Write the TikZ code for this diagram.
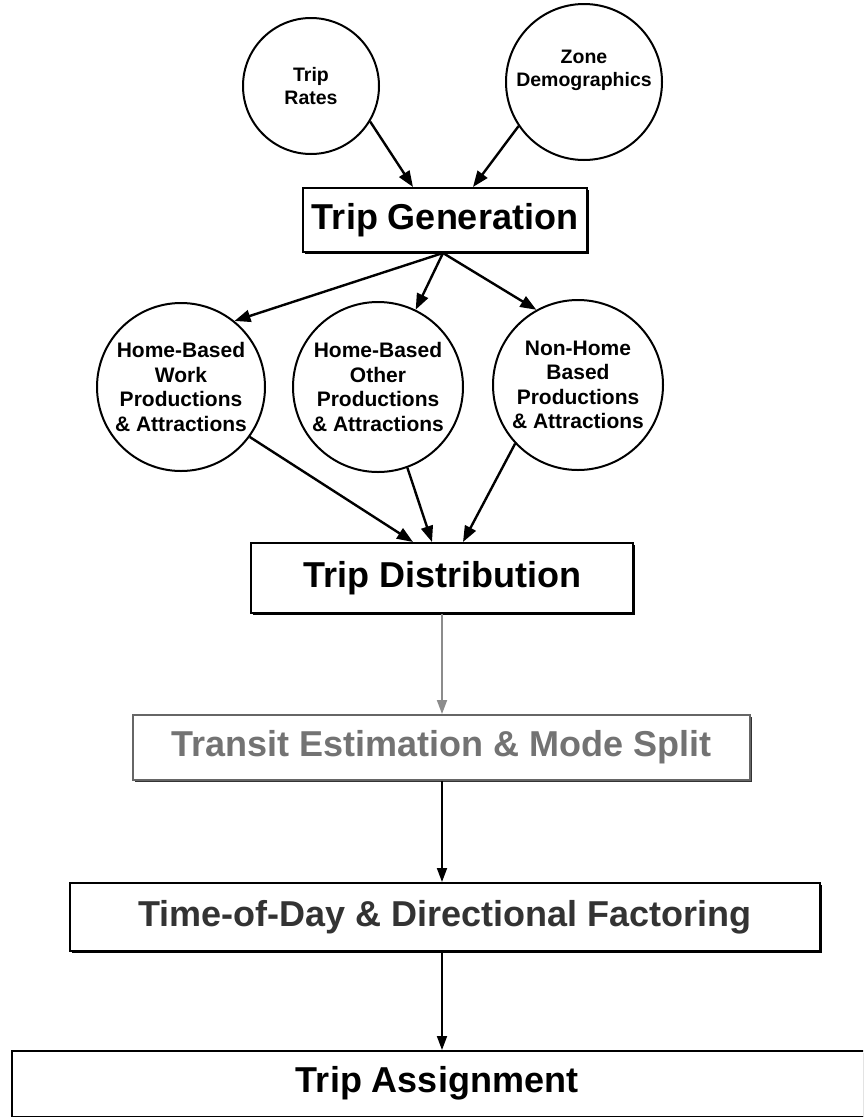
\documentclass[tikz,border=0pt]{standalone}
\usepackage{fontspec}
\setmainfont{Liberation Sans}
\usetikzlibrary{arrows.meta,calc,shadows}
\begin{document}
\begin{tikzpicture}[x=1pt,y=-1pt,
  circ/.style={draw, circle, line width=2pt, inner sep=0pt, align=center, font=\fontsize{21}{24.5}\selectfont\bfseries},
  smallcirc/.style={draw, circle, line width=2pt, inner sep=0pt, align=center, font=\fontsize{19.5}{23}\selectfont\bfseries},
  stepbox/.style={draw, fill=white, rectangle, line width=2pt, inner sep=0pt, font=\fontsize{36}{40}\selectfont\bfseries,
    drop shadow={shadow xshift=1.8pt, shadow yshift=-1.8pt, fill=black, opacity=1}},
  arr/.style={line width=2.4pt, -{Triangle[length=16pt,width=12pt]}},
  varr/.style={line width=1.8pt, -{Triangle[length=14pt,width=10pt]}}]
\useasboundingbox (0,0) rectangle (863,1117);
\clip (0,0) rectangle (863,1117);
\fill[white] (0,0) rectangle (863,1117);

\node[smallcirc, minimum size=136pt] (rates) at (311,86) {Trip\\Rates};
\node[smallcirc, minimum size=156pt] (zone) at (584,82) {};
\node[font=\fontsize{19.5}{23}\selectfont\bfseries, align=center] (zonetext) at (584,70) {Zone\\Demographics};

\node[stepbox, minimum width=284pt, minimum height=64pt] (gen) at (445,220) {Trip Generation};

\node[circ, minimum size=168pt] (hbw) at (181,387) {Home-Based\\Work\\Productions\\\& Attractions};
\node[circ, minimum size=170pt] (hbo) at (378,387) {Home-Based\\Other\\Productions\\\& Attractions};
\node[circ, minimum size=170pt] (nhb) at (578,385) {Non-Home\\Based\\Productions\\\& Attractions};

\node[stepbox, minimum width=382pt, minimum height=70pt] (dist) at (442,578) {Trip Distribution};
\node[stepbox, draw=black!60, text=black!55, minimum width=617pt, minimum height=65pt,
  drop shadow={shadow xshift=1.8pt, shadow yshift=-1.8pt, fill=black!80, opacity=1}] (transit) at (441.5,747.5) {Transit Estimation \& Mode Split};
\node[stepbox, text=black!80, minimum width=750pt, minimum height=68pt] (tod) at (445,917) {Time-of-Day \& Directional Factoring};
\node[stepbox, minimum width=920pt, minimum height=66pt, anchor=north west] (assign) at (11,1050) {};
\node[font=\fontsize{36}{40}\selectfont\bfseries] (assigntext) at (437,1083) {Trip Assignment};

\coordinate (gs) at ($(gen.south)+(-2,0)$);

\draw[arr] (rates.-31) -- ($(gen.north)+(-32,0)$);
\draw[arr] (zone.-146) -- ($(gen.north)+(28,0)$);
\draw[arr] (gs) -- (hbw.51);
\draw[arr] (gs) -- (hbo.64);
\draw[arr] (gs) -- (nhb.119);
\draw[arr] (hbw.-36) -- ($(dist.north)+(-29,0)$);
\draw[arr] (hbo.-70) -- ($(dist.north)+(-10,0)$);
\draw[arr] (nhb.-137) -- ($(dist.north)+(21,0)$);

\draw[varr, black!45] (dist.south) -- (dist.south |- transit.north);
\draw[varr] (dist.south |- transit.south) -- (dist.south |- tod.north);
\draw[varr] (dist.south |- tod.south) -- (dist.south |- assign.north);
\end{tikzpicture}
\end{document}
